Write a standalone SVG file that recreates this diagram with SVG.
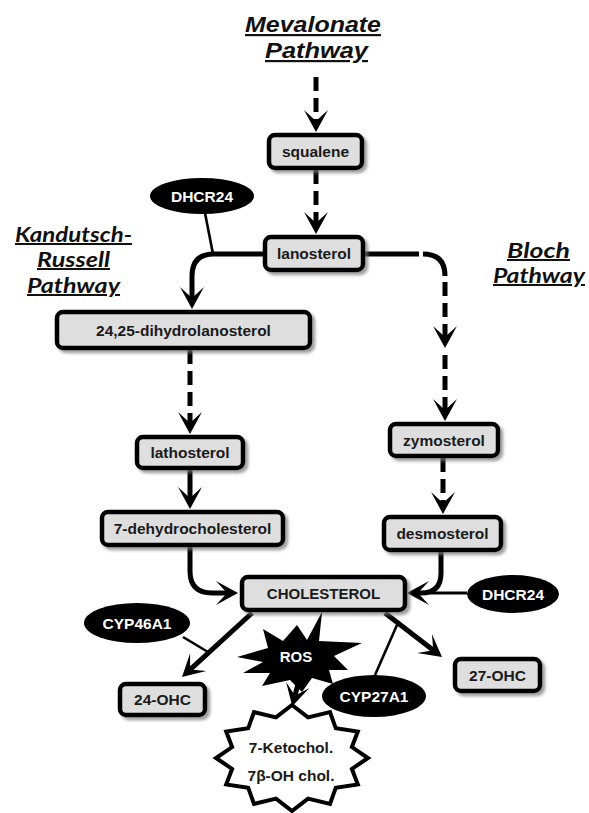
<svg xmlns="http://www.w3.org/2000/svg" width="589" height="813" viewBox="0 0 589 813">
<style>
.box rect{fill:#dedede;stroke:#000;stroke-width:4.5;filter:url(#sh)}
.lbl{font-family:"Liberation Sans",Arial,sans-serif;font-weight:bold;font-size:15.5px;fill:#1a1a1a;text-anchor:middle}
.enz ellipse{fill:#000}
.etx{font-family:"Liberation Sans",Arial,sans-serif;font-weight:bold;font-size:15.5px;fill:#fff;text-anchor:middle}
.ttl{font-family:"Liberation Sans",Arial,sans-serif;font-weight:bold;font-style:italic;font-size:22px;fill:#111;text-decoration:underline}
.ttl2{font-family:Lato,"Open Sans",sans-serif;font-weight:bold;font-style:italic;font-size:20px;fill:#111;text-decoration:underline}
.c{fill:none;stroke:#000;stroke-width:5}
.d{stroke-dasharray:14 7}
.arr{marker-end:url(#ah)}
.thin{fill:none;stroke:#000;stroke-width:2.6}
</style>
<defs>
<filter id="sh" x="-10%" y="-20%" width="130%" height="160%">
<feDropShadow dx="3" dy="3" stdDeviation="1.5" flood-color="#777" flood-opacity="0.7"/>
</filter>
<marker id="ah" viewBox="-12 -13 24 26" markerWidth="24" markerHeight="26" refX="0" refY="0" orient="auto" markerUnits="userSpaceOnUse">
<path d="M11,0 L-11,-12 L0,0 L-11,12 Z" fill="#000"/>
</marker>
</defs>

<g id="titles">
<text class="ttl" x="245" y="32" textLength="136" lengthAdjust="spacingAndGlyphs">Mevalonate</text>
<text class="ttl" x="265" y="58" textLength="103" lengthAdjust="spacingAndGlyphs">Pathway</text>
<text class="ttl2" x="15" y="242" textLength="117" lengthAdjust="spacingAndGlyphs">Kandutsch-</text>
<text class="ttl2" x="37" y="267" textLength="73" lengthAdjust="spacingAndGlyphs">Russell</text>
<text class="ttl2" x="27" y="293" textLength="93" lengthAdjust="spacingAndGlyphs">Pathway</text>
<text class="ttl2" x="507" y="258" textLength="63" lengthAdjust="spacingAndGlyphs">Bloch</text>
<text class="ttl2" x="493" y="283" textLength="92" lengthAdjust="spacingAndGlyphs">Pathway</text>
</g>

<g id="connectors">
<path class="c d arr" d="M316,77 V121"/>
<path class="c d arr" d="M316,170 V223"/>
<path class="c arr" d="M263,254 H214 Q192,254 192,276 V298"/>
<path class="thin" d="M205,213 L213,254"/>
<path class="c d arr" d="M190,350 V423"/>
<path class="c arr" d="M190,470 V498"/>
<path class="c arr" d="M190,547 V571 Q190,593 212,593 H227"/>
<path class="c" d="M365,254 H419"/>
<path class="c" d="M423,254 Q445,254 445,276"/>
<path class="c d" d="M445,282 V340"/>
<path d="M445,348 L433,326 L445,337 L457,326 Z" fill="#000"/>
<path class="c d arr" d="M445,355 V410"/>
<path class="c d arr" d="M443,458 V503"/>
<path class="c arr" d="M441,552 V573 Q441,593 421,593 H418"/>
<path class="thin" d="M467,593 H414" style="stroke-width:3"/>
<path class="c arr" d="M252,613 L190.1,669.6"/>
<path class="thin" d="M183,637 L208,652"/>
<path class="c arr" d="M385,613 L433.3,650.3"/>
<path class="thin" d="M375,675 L397,625"/>
<path class="c arr" d="M298,684 L295,695.7"/>
</g>

<g id="squalene" class="box"><rect x="269" y="135" width="93" height="33" rx="6"/><text class="lbl" x="315.5" y="157">squalene</text></g>
<g id="lanosterol" class="box"><rect x="265" y="237" width="98" height="33" rx="6"/><text class="lbl" x="314" y="259">lanosterol</text></g>
<g id="dihydrolanosterol" class="box"><rect x="57" y="312" width="253" height="36" rx="6"/><text class="lbl" x="183.5" y="335.5">24,25-dihydrolanosterol</text></g>
<g id="lathosterol" class="box"><rect x="137" y="437" width="106" height="31" rx="6"/><text class="lbl" x="190" y="458">lathosterol</text></g>
<g id="dehydrocholesterol" class="box"><rect x="102" y="512" width="181" height="33" rx="6"/><text class="lbl" x="192.5" y="534">7-dehydrocholesterol</text></g>
<g id="zymosterol" class="box"><rect x="390" y="424" width="108" height="32" rx="6"/><text class="lbl" x="444" y="445.5">zymosterol</text></g>
<g id="desmosterol" class="box"><rect x="384" y="517" width="117" height="33" rx="6"/><text class="lbl" x="442.5" y="539">desmosterol</text></g>
<g id="cholesterol" class="box"><rect x="242" y="577" width="163" height="33" rx="6"/><text class="lbl" x="323.5" y="599" style="font-size:15px">CHOLESTEROL</text></g>
<g id="ohc24" class="box"><rect x="120" y="684" width="85" height="31" rx="6"/><text class="lbl" x="162.5" y="705">24-OHC</text></g>
<g id="ohc27" class="box"><rect x="455" y="659" width="85" height="32" rx="6"/><text class="lbl" x="497.5" y="680.5">27-OHC</text></g>

<g id="dhcr24a" class="enz"><ellipse cx="202" cy="196" rx="52" ry="18"/><text class="etx" x="202" y="201.5">DHCR24</text></g>
<g id="dhcr24b" class="enz"><ellipse cx="513" cy="594" rx="46" ry="19"/><text class="etx" x="513" y="599.5">DHCR24</text></g>
<g id="cyp46a1" class="enz"><ellipse cx="137" cy="623" rx="53" ry="20"/><text class="etx" x="137" y="628.5">CYP46A1</text></g>
<g id="cyp27a1" class="enz"><ellipse cx="374" cy="696" rx="52" ry="21"/><text class="etx" x="374" y="701.5">CYP27A1</text></g>

<g id="ros">
<polygon points="263,629 283,641 297,625 307,640 322,612 319,641 362,643 334,656 348,670 329,670 333,684 312,678 302,692 290,680 262,686 270,673 243,673 263,662 237,657 268,648" fill="#000"/>
<text class="etx" x="296" y="662" style="font-size:15px">ROS</text>
</g>

<g id="oxysterols">
<polygon points="292,705 308,717.4 330,712.1 335.8,728.3 357.8,731.5 351.9,747.1 368,758 351.9,768.9 357.8,784.5 335.8,787.7 330,803.9 308,798.6 292,811 276,798.6 254,803.9 248.2,787.7 226.2,784.5 232.1,768.9 216,758 232.1,747.1 226.2,731.5 248.2,728.3 254,712.1 276,717.4" fill="#fff" stroke="#000" stroke-width="4"/>
<text class="lbl" x="291" y="752.5">7-Ketochol.</text>
<text class="lbl" x="291" y="780.5">7β-OH chol.</text>
</g>
</svg>
